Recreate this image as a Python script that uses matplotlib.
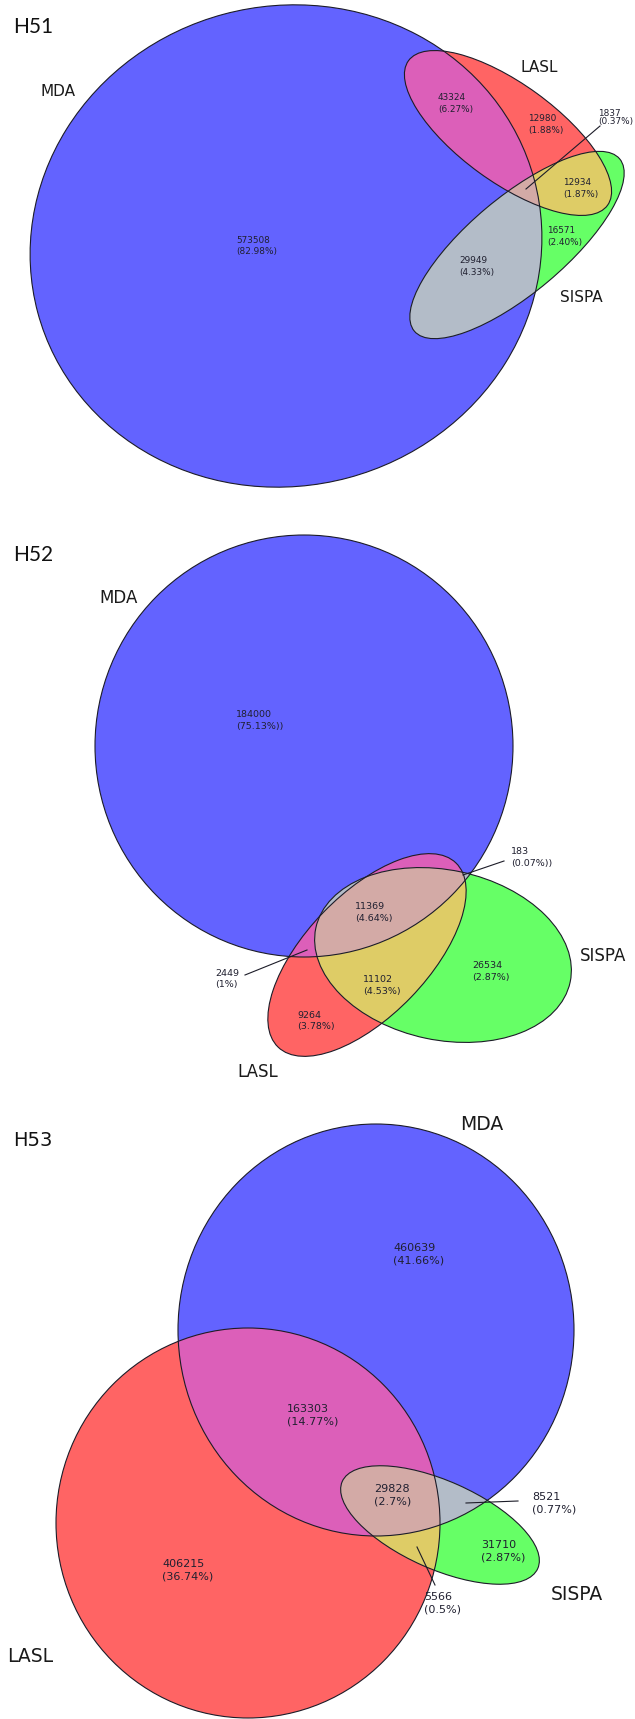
import numpy as np
import matplotlib.pyplot as plt
from matplotlib.patches import Ellipse, Polygon

# --- data -----------------------------------------------------------------
panel_titles = ["H51", "H52", "H53"]
set_names = ["MDA", "LASL", "SISPA"]
# region order: MDA only, MDA&LASL, LASL only, all three, LASL&SISPA, SISPA only, MDA&SISPA
h51_counts = [573508, 43324, 12980, 1837, 12934, 16571, 29949]
h51_pcts = ["(82.98%)", "(6.27%)", "(1.88%)", "(0.37%)", "(1.87%)", "(2.40%)", "(4.33%)"]
h52_counts = [184000, 2449, 9264, 11369, 11102, 26534, 183]
h52_pcts = ["(75.13%))", "(1%)", "(3.78%)", "(4.64%)", "(4.53%)", "(2.87%)", "(0.07%))"]
h53_counts = [460639, 163303, 406215, 29828, 5566, 31710, 8521]
h53_pcts = ["(41.66%)", "(14.77%)", "(36.74%)", "(2.7%)", "(0.5%)", "(2.87%)", "(0.77%)"]

# colours of the regions
c_mda, c_lasl, c_sispa = "#6363FF", "#FF6464", "#66FF66"
c_mda_lasl, c_lasl_sispa, c_mda_sispa, c_all = "#DC5FB9", "#DECC66", "#B3BCC8", "#D3AAA6"

# --- layout (pixel coords, y down) ----------------------------------------
# ellipse = (cx, cy, a, b, angle)
panels = [
    dict(title=(13, 27), ell=[(286, 246, 257, 240, -15), (508, 133, 123, 49, 36), (517, 245, 134, 48, -40)],
         lab=[(236, 246), (438, 103.5), (528, 124.5), (598, 117.5), (563, 188.5), (547, 236.5), (459, 266.5)],
         names=[(40, 92), (521, 67), (560, 298)], name_fs=11, fs=6.4,
         leaders=[((526, 189), (600, 126))]),
    dict(title=(13, 555), ell=[(304, 746, 209, 211, 0), (367, 955, 128, 61, -46), (443, 955, 130, 85, 12)],
         lab=[(236, 720.5), (215, 979), (297, 1021), (355, 912.5), (363, 985.5), (472, 971.5), (511, 857.5)],
         names=[(99, 598), (237, 1072), (580, 956)], name_fs=12, fs=6.8,
         leaders=[((463, 875), (504, 861)), ((307, 950), (245, 975))]),
    dict(title=(13, 1140), ell=[(376, 1330, 198, 206, 0), (248, 1523, 192, 195, 0), (440, 1525, 107, 44, 24)],
         lab=[(393, 1254), (287, 1415), (162, 1570.5), (374, 1495), (424, 1603), (481, 1551.5), (532, 1503)],
         names=[(460, 1125), (7, 1657), (551, 1595)], name_fs=13.5, fs=8,
         leaders=[((466, 1503), (518, 1501)), ((417, 1547), (435, 1585))]),
]
counts = [h51_counts, h52_counts, h53_counts]
pcts = [h51_pcts, h52_pcts, h53_pcts]


def ell_points(e, n=1200):
    cx, cy, a, b, ang = e
    t = np.linspace(0, 2 * np.pi, n, endpoint=False)
    r = np.deg2rad(ang)
    x, y = a * np.cos(t), b * np.sin(t)
    return np.column_stack([cx + x * np.cos(r) - y * np.sin(r), cy + x * np.sin(r) + y * np.cos(r)])


def inside(p, e):
    cx, cy, a, b, ang = e
    r = np.deg2rad(ang)
    dx, dy = p[:, 0] - cx, p[:, 1] - cy
    u = dx * np.cos(r) + dy * np.sin(r)
    v = -dx * np.sin(r) + dy * np.cos(r)
    return (u / a) ** 2 + (v / b) ** 2 <= 1.0


def overlap(ells):
    # intersection of convex shapes -> collect boundary points inside the others
    pts = []
    for i, e in enumerate(ells):
        p = ell_points(e)
        keep = np.ones(len(p), bool)
        for j, f in enumerate(ells):
            if j != i:
                keep &= inside(p, f)
        pts.append(p[keep])
    pts = np.vstack(pts)
    c = pts.mean(axis=0)
    return pts[np.argsort(np.arctan2(pts[:, 1] - c[1], pts[:, 0] - c[0]))]


fig = plt.figure(figsize=(6.35, 17.19), dpi=100)
ax = fig.add_axes([0, 0, 1, 1])
ax.set_xlim(0, 635)
ax.set_ylim(1719, 0)
ax.axis("off")

for k, pn in enumerate(panels):
    m, l, s = pn["ell"]
    for e, col in zip([m, l, s], [c_mda, c_lasl, c_sispa]):
        ax.add_patch(Ellipse((e[0], e[1]), 2 * e[2], 2 * e[3], angle=e[4], fc=col, ec="none"))
    for group, col in [([m, l], c_mda_lasl), ([l, s], c_lasl_sispa), ([m, s], c_mda_sispa), ([m, l, s], c_all)]:
        ax.add_patch(Polygon(overlap(group), closed=True, fc=col, ec="none"))
    for e in [m, l, s]:
        ax.add_patch(Ellipse((e[0], e[1]), 2 * e[2], 2 * e[3], angle=e[4], fill=False, ec="#1c1c28", lw=0.8))

    for (x0, y0), (x1, y1) in pn["leaders"]:
        ax.plot([x0, x1], [y0, y1], color="#1c1c28", lw=0.8)

    for (x, y), n, p in zip(pn["lab"], counts[k], pcts[k]):
        ls = 0.95 if n == 1837 else 1.35
        ax.text(x, y, f"{n}\n{p}", fontsize=pn["fs"], family="DejaVu Sans", color="#202030",
                ha="left", va="center", linespacing=ls)

    for (x, y), name in zip(pn["names"], set_names):
        ax.text(x, y, name, fontsize=pn["name_fs"], family="DejaVu Sans", color="#1a1a1a",
                ha="left", va="center")

    tx, ty = pn["title"]
    tfam = ["DejaVu Sans"] if k == 2 else ["Lato", "DejaVu Sans"]
    ax.text(tx, ty, panel_titles[k], fontsize=15 if k < 2 else 14, family=tfam, color="#111111",
            ha="left", va="center")

fig.savefig("out.png", dpi=100)
